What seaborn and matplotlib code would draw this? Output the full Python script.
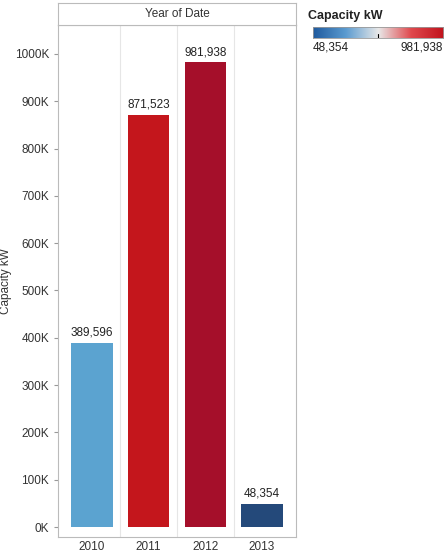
import matplotlib
matplotlib.use("Agg")
import matplotlib.pyplot as plt
import seaborn as sns
import numpy as np
import pandas as pd
from matplotlib.colors import LinearSegmentedColormap

years = ["2010", "2011", "2012", "2013"]
capacity = [389596, 871523, 981938, 48354]
bar_colors = ["#5ba3d0", "#c4161c", "#a50f2a", "#24497a"]

df = pd.DataFrame({"Year": years, "Capacity": capacity})

sns.set_style("white")
plt.rcParams["font.family"] = ["Arial", "Liberation Sans", "DejaVu Sans"]

fig = plt.figure(figsize=(4.48, 5.55), dpi=100)
ax = fig.add_axes([58 / 448, 18 / 555, 238 / 448, 512 / 555])

sns.barplot(data=df, x="Year", y="Capacity", hue="Year",
            palette=dict(zip(years, bar_colors)), width=0.73,
            legend=False, ax=ax, saturation=1, linewidth=0)

for i, v in enumerate(capacity):
    ax.text(i, v + 9000, f"{v:,}", ha="center", va="bottom", fontsize=8.5, color="#222222")

ax.set_ylim(-21000, 1061000)
ax.set_xlim(-0.6, 3.6)
ticks = np.arange(0, 1000001, 100000)
ax.set_yticks(ticks)
ax.set_yticklabels([f"{int(t/1000)}K" for t in ticks], fontsize=8.5, color="#333333")
ax.tick_params(axis="x", labelsize=8.5, colors="#333333", length=0, pad=3)
ax.tick_params(axis="y", length=3, color="#999999", left=True)
ax.set_xlabel("")
ax.set_ylabel("Capacity kW", fontsize=8.5, color="#333333")
ax.yaxis.set_label_coords(-0.195, 0.5)
for s in ax.spines.values():
    s.set_color("#bbbbbb")
    s.set_linewidth(0.8)
for x in [0.5, 1.5, 2.5]:
    ax.axvline(x, color="#e6e6e6", lw=0.8, zorder=0)

# header
hax = fig.add_axes([58 / 448, 530 / 555, 238 / 448, 22 / 555])
hax.set_xticks([]); hax.set_yticks([])
for s in hax.spines.values():
    s.set_color("#bbbbbb"); s.set_linewidth(0.8)
hax.text(0.5, 0.5, "Year of Date", ha="center", va="center", fontsize=8.5, color="#333333",
         transform=hax.transAxes)

# colour legend
fig.text(308 / 448, 1 - 16 / 555, "Capacity kW", fontsize=9, fontweight="bold", va="center", color="#222222")
cmap = LinearSegmentedColormap.from_list("div", ["#1f5a9e", "#5b9bd0", "#e8e8e8", "#e0494d", "#c0121c"])
lax = fig.add_axes([313 / 448, 1 - 38 / 555, 130 / 448, 11 / 555])
lax.imshow(np.linspace(0, 1, 256)[None, :], aspect="auto", cmap=cmap, extent=[0, 1, 0, 1])
lax.set_xticks([]); lax.set_yticks([])
lax.axvline(0.5, ymin=0, ymax=0.35, color="black", lw=0.8)
for s in lax.spines.values():
    s.set_color("#999999"); s.set_linewidth(0.6)
fig.text(313 / 448, 1 - 48 / 555, f"{min(capacity):,}", fontsize=8.5, va="center", color="#222222")
fig.text(443 / 448, 1 - 48 / 555, f"{max(capacity):,}", fontsize=8.5, va="center", ha="right", color="#222222")

fig.savefig("out.png", dpi=100)
